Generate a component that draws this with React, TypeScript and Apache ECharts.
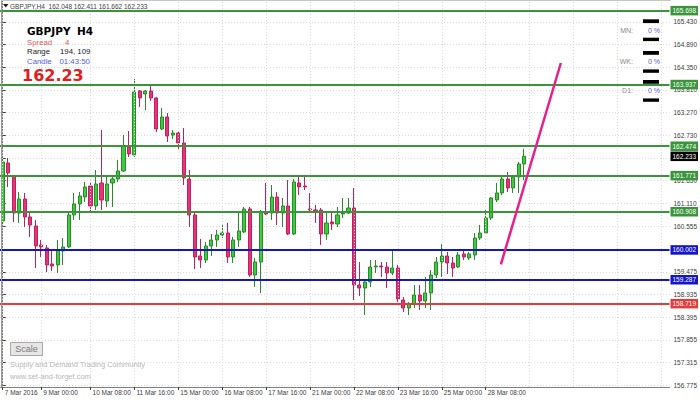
import React, { useEffect, useRef } from "react";
import * as echarts from "echarts";

// ---------- data ----------
const symbol = "GBPJPY";
const timeframe = "H4";
const headerOHLC = ["162.048", "162.411", "161.662", "162.233"];
const spreadValue = "4";
const rangeValue = "194, 109";
const candleTimer = "01:43:50";
const bigPrice = "162.23";

const candleOpen = [
  160.69, 162.071, 161.762, 160.88, 161.214, 160.785, 160.571, 160.118, 160.047, 159.666,
  159.642, 159.975, 160.07, 160.833, 161.095, 161.261, 161.523, 161.047, 161.595, 161.166,
  161.595, 161.69, 161.881, 162.452, 162.262, 163.786, 163.715, 163.786, 163.62, 162.881,
  163.167, 162.738, 162.786, 162.548, 161.69, 160.833, 159.856, 159.761, 160.094, 160.237,
  160.356, 160.404, 159.832, 160.237, 160.428, 160.976, 159.403, 159.713, 160.904, 160.88,
  161.261, 160.88, 161.047, 160.38, 161.595, 161.523, 160.976, 160.952, 160.952, 160.38,
  160.666, 160.618, 160.857, 160.88, 160.999, 159.165, 159.094, 159.237, 159.594, 159.618,
  159.594, 159.451, 159.57, 158.808, 158.617, 158.713, 158.927, 158.784, 158.975, 159.403,
  159.713, 159.856, 159.689, 159.594, 159.904, 159.808, 159.88, 160.285, 160.404, 160.761,
  161.19, 161.357, 161.69, 161.476, 161.738, 162.048,
];
const candleClose = [
  162.095, 161.833, 160.88, 161.214, 160.785, 160.594, 160.094, 160.07, 159.642, 159.618,
  159.999, 160.07, 160.833, 161.095, 161.285, 161.5, 161.047, 161.571, 161.19, 161.571,
  161.69, 161.881, 162.476, 162.286, 163.763, 163.62, 163.786, 163.62, 162.881, 163.167,
  162.714, 162.786, 162.548, 161.714, 160.833, 159.832, 159.761, 160.094, 160.237, 160.356,
  160.404, 159.832, 160.237, 160.452, 160.976, 159.403, 159.713, 160.904, 160.857, 161.261,
  160.88, 161.047, 160.38, 161.619, 161.5, 161.5, 160.952, 160.928, 160.38, 160.642,
  160.618, 160.833, 160.88, 160.999, 159.165, 159.094, 159.237, 159.594, 159.618, 159.594,
  159.451, 159.57, 158.832, 158.617, 158.713, 158.927, 158.784, 158.975, 159.403, 159.713,
  159.856, 159.689, 159.57, 159.88, 159.832, 159.904, 160.285, 160.404, 160.761, 161.238,
  161.357, 161.69, 161.476, 161.738, 162.048, 162.233,
];
const candleLow = [
  160.618, 161.5, 160.666, 160.642, 160.547, 160.309, 159.57, 159.832, 159.475, 159.499,
  159.451, 159.642, 160.047, 160.714, 160.714, 161.142, 160.88, 160.952, 160.952, 161.023,
  161.023, 161.619, 161.857, 162.214, 162.214, 163.405, 163.334, 163.548, 162.81, 162.857,
  162.572, 162.643, 162.381, 161.547, 160.547, 159.546, 159.57, 159.689, 159.856, 160.07,
  160.285, 159.689, 159.689, 160.07, 160.404, 159.356, 159.118, 158.975, 160.833, 160.714,
  160.594, 160.547, 160.356, 160.356, 161.309, 161.428, 160.88, 160.642, 160.118, 160.237,
  160.475, 160.547, 160.761, 160.857, 158.808, 158.903, 158.451, 159.118, 159.451, 159.356,
  159.094, 159.403, 158.76, 158.522, 158.451, 158.617, 158.57, 158.617, 158.57, 159.332,
  159.356, 159.427, 159.356, 159.57, 159.761, 159.761, 159.761, 160.237, 160.404, 160.714,
  161.142, 161.309, 161.381, 161.357, 161.357, 161.662,
];
const candleHigh = [
  162.214, 162.19, 161.785, 161.381, 161.357, 160.88, 160.714, 160.237, 160.118, 159.999,
  160.237, 160.285, 160.88, 161.357, 161.381, 161.619, 161.619, 161.905, 162.857, 161.785,
  161.738, 162.143, 162.738, 162.834, 164.072, 163.81, 163.81, 163.905, 163.643, 163.381,
  163.262, 162.857, 162.81, 162.905, 161.905, 160.88, 160.261, 160.19, 160.38, 160.475,
  160.618, 160.642, 160.309, 160.904, 161.023, 161.023, 159.808, 160.952, 161.595, 161.547,
  161.381, 161.238, 161.666, 161.69, 161.738, 161.762, 161.357, 161.071, 160.999, 160.904,
  160.904, 161.023, 161.238, 161.238, 161.476, 159.713, 159.284, 159.761, 159.761, 159.713,
  159.713, 159.999, 159.642, 158.88, 158.76, 159.165, 159.165, 159.356, 159.523, 159.832,
  160.142, 159.951, 159.832, 159.951, 159.999, 159.951, 160.404, 160.594, 160.952, 161.261,
  161.595, 161.738, 161.857, 161.785, 162.095, 162.411,
];

const slotCount = 122; // bar slots across the chart width (empty space on the right)
const timeLabelIndex = [0, 7, 16, 24, 32, 40, 48, 56, 64, 72, 80, 88];
const timeLabelText = [
  "7 Mar 2016", "9 Mar 00:00", "10 Mar 08:00", "11 Mar 16:00", "15 Mar 00:00", "16 Mar 08:00",
  "17 Mar 16:00", "21 Mar 00:00", "22 Mar 08:00", "23 Mar 16:00", "25 Mar 00:00", "28 Mar 08:00",
];
const extraGridIndex = [96, 104, 112, 120];

// tick positions of the price scale; two of them are hidden behind level labels
const priceTicks = [
  165.43, 164.89, 164.35, 163.81, 163.27, 162.73, 162.19, 161.65, 161.11, 160.555,
  160.015, 159.475, 158.935, 158.395, 157.855, 157.315, 156.775,
];
const priceLabels = [
  165.43, 164.89, 164.35, 163.81, 163.27, 162.73, 161.65, 161.11, 160.555,
  159.475, 158.935, 158.395, 157.855, 157.315, 156.775,
];
const priceMin = 156.735;
const priceMax = 165.93;

const greenLevels = [165.698, 163.937, 162.474, 161.771, 160.908];
const blueLevels = [160.002, 159.287];
const redLevels = [158.719];
const currentPrice = 162.233;
const trendLine = [
  [90.77, 159.658],
  [101.7, 164.453],
];

const panelRows = ["MN:", "WK:", "D1:"];
const panelValues = ["0 %", "0 %", "0 %"];
const watermark = ["Supply and Demand Trading Community", "www.set-and-forget.com"];

// ---------- styles ----------
const SMALL = '"Liberation Sans", Arial, sans-serif';
const GREEN = "#3a943a";
const BLUE = "#1414c8";
const RED = "#e23c3c";

function levelItem(v: number, color: string, lineColor?: string) {
  return {
    yAxis: v,
    lineStyle: { color: lineColor ?? color, width: 2, type: "solid" },
    label: {
      show: true,
      position: "end",
      distance: 1,
      formatter: () => v.toFixed(3),
      color: "#ffffff",
      backgroundColor: color,
      fontSize: 6.5,
      fontFamily: SMALL,
      padding: [1.5, 2, 1, 2],
    },
  };
}

function buildOption() {
  const categories = Array.from({ length: slotCount }, (_, i) => String(i));
  const labelMap: Record<number, string> = {};
  timeLabelIndex.forEach((idx, k) => (labelMap[idx] = timeLabelText[k]));
  const candles = candleOpen.map((o, i) => [o, candleClose[i], candleLow[i], candleHigh[i]]);

  const levelData: any[] = [
    ...greenLevels.map((v) => levelItem(v, GREEN)),
    ...blueLevels.map((v) => levelItem(v, BLUE)),
    ...redLevels.map((v) => levelItem(v, RED)),
    levelItem(currentPrice, "#000000", "rgba(0,0,0,0)"),
  ];

  const textStyle = (text: string, x: number, y: number, fill: string, font: string, align = "left") => ({
    type: "text",
    x,
    y,
    z: 100,
    silent: true,
    style: { text, fill, font, align, verticalAlign: "middle" },
  });

  const graphics: any[] = [
    // frame
    { type: "line", z: 50, silent: true, shape: { x1: 1.5, y1: 0, x2: 1.5, y2: 387 }, style: { stroke: "#9a9a9a", lineWidth: 1 } },
    { type: "line", z: 50, silent: true, shape: { x1: 1, y1: 0.5, x2: 671, y2: 0.5 }, style: { stroke: "#c8c8c8", lineWidth: 1 } },
    // header
    { type: "polygon", z: 100, silent: true, shape: { points: [[3, 4], [8.5, 4], [5.75, 7.5]] }, style: { fill: "#202020" } },
    textStyle(`${symbol},${timeframe}  ${headerOHLC.join(" ")}`, 10, 6, "#404040", `6.5px ${SMALL}`),
    // info block
    textStyle(symbol, 27, 31, "#000000", 'bold 10.5px "DejaVu Sans", sans-serif'),
    textStyle(timeframe, 77, 31, "#000000", 'bold 10.5px "DejaVu Sans", sans-serif'),
    textStyle("Spread", 27, 42, "#e05858", `7.8px ${SMALL}`),
    textStyle(spreadValue, 65, 42, "#e05858", `7.8px ${SMALL}`),
    textStyle("Range", 27, 51.5, "#222222", `7.8px ${SMALL}`),
    textStyle(rangeValue, 60, 51.5, "#222222", `7.8px ${SMALL}`),
    textStyle("Candle", 27, 61, "#4f5fe0", `7.8px ${SMALL}`),
    textStyle(candleTimer, 59.5, 61, "#4f5fe0", `7.8px ${SMALL}`),
    textStyle(bigPrice, 22, 75, "#e0201c", 'bold 16px "DejaVu Sans", sans-serif'),
    // scale button
    { type: "rect", z: 100, silent: true, shape: { x: 10.5, y: 342.5, width: 32, height: 13 }, style: { fill: "#e6e6e6", stroke: "#a8a8a8", lineWidth: 1 } },
    { type: "text", x: 26.5, y: 349.2, z: 101, silent: true, style: { text: "Scale", fill: "#7a7a7a", font: `9px ${SMALL}`, align: "center", verticalAlign: "middle" } },
    textStyle(watermark[0], 10, 364.3, "#b8b8b8", `7.5px ${SMALL}`),
    textStyle(watermark[1], 10, 376.7, "#b8b8b8", `7.5px ${SMALL}`),
  ];

  // MN / WK / D1 panel
  const rowY = [30, 61.7, 90.7];
  panelRows.forEach((r, k) => {
    const y = rowY[k];
    graphics.push(textStyle(r, 633, y, "#8a8a8a", `7px ${SMALL}`, "right"));
    graphics.push(textStyle(panelValues[k], 648, y, "#5a5ad8", `7px ${SMALL}`));
    graphics.push({ type: "rect", z: 100, silent: true, shape: { x: 643, y: y - 10.7, width: 16, height: 3.8 }, style: { fill: "#000" } });
    graphics.push({ type: "rect", z: 100, silent: true, shape: { x: 643, y: y + 7.7, width: 16, height: 3.4 }, style: { fill: "#000" } });
  });

  return {
    animation: false,
    backgroundColor: "#ffffff",
    grid: { left: -1, top: 1, width: 672, height: 386, containLabel: false },
    xAxis: [
      {
        type: "category",
        data: categories,
        boundaryGap: true,
        axisLine: { show: true, lineStyle: { color: "#808080", width: 1 } },
        axisTick: {
          show: true,
          alignWithLabel: true,
          length: 3,
          interval: (i: number) => labelMap[i] !== undefined,
          lineStyle: { color: "#404040" },
        },
        axisLabel: {
          show: true,
          interval: (i: number) => labelMap[i] !== undefined,
          formatter: (_v: string, i: number) => labelMap[i] ?? "",
          align: "left",
          margin: 2,
          padding: [0, 0, 0, 2],
          fontSize: 6.5,
          fontFamily: SMALL,
          color: "#404040",
        },
        splitLine: { show: false },
      },
      { type: "value", min: -0.5, max: slotCount - 0.5, show: false },
    ],
    yAxis: {
      type: "value",
      position: "right",
      min: priceMin,
      max: priceMax,
      scale: true,
      axisLine: { show: true, lineStyle: { color: "#808080", width: 1 } },
      axisTick: { show: true, length: 3, customValues: priceTicks, lineStyle: { color: "#404040" } },
      axisLabel: {
        show: true,
        customValues: priceLabels,
        formatter: (v: number) => v.toFixed(3),
        margin: 4,
        fontSize: 6.5,
        fontFamily: SMALL,
        color: "#404040",
      },
      splitLine: { show: true, lineStyle: { color: "#dadada", type: [1, 2], width: 1 } },
    },
    series: [
      {
        type: "line",
        name: "vgrid",
        data: [],
        z: 1,
        silent: true,
        markLine: {
          silent: true,
          symbol: ["none", "none"],
          label: { show: false },
          lineStyle: { color: "#dadada", type: [1, 2], width: 1 },
          data: [...timeLabelIndex, ...extraGridIndex].map((i) => ({ xAxis: i })),
        },
      },
      {
        type: "candlestick",
        name: symbol,
        data: candles,
        z: 3,
        barWidth: 3.6,
        itemStyle: {
          color: "#3ccc3c",
          color0: "#e6337a",
          borderColor: "#2a8a2a",
          borderColor0: "#c0215d",
          borderWidth: 1,
        },
      },
      {
        type: "line",
        name: "levels",
        data: [],
        z: 5,
        markLine: {
          silent: true,
          symbol: ["none", "none"],
          data: levelData,
        },
      },
      {
        type: "line",
        name: "trend",
        xAxisIndex: 1,
        data: trendLine,
        z: 6,
        symbol: "none",
        silent: true,
        lineStyle: { color: "#e6208c", width: 2.5 },
      },
    ],
    graphic: graphics,
  };
}

export default function App() {
  const ref = useRef<HTMLDivElement>(null);
  useEffect(() => {
    if (!ref.current) return;
    const chart = echarts.init(ref.current, undefined, { renderer: "svg", width: 700, height: 401 });
    chart.setOption(buildOption() as any);
    return () => chart.dispose();
  }, []);
  return (
    <div
      ref={ref}
      style={{ position: "absolute", left: 0, top: 0, width: 700, height: 401, background: "#ffffff" }}
    />
  );
}
